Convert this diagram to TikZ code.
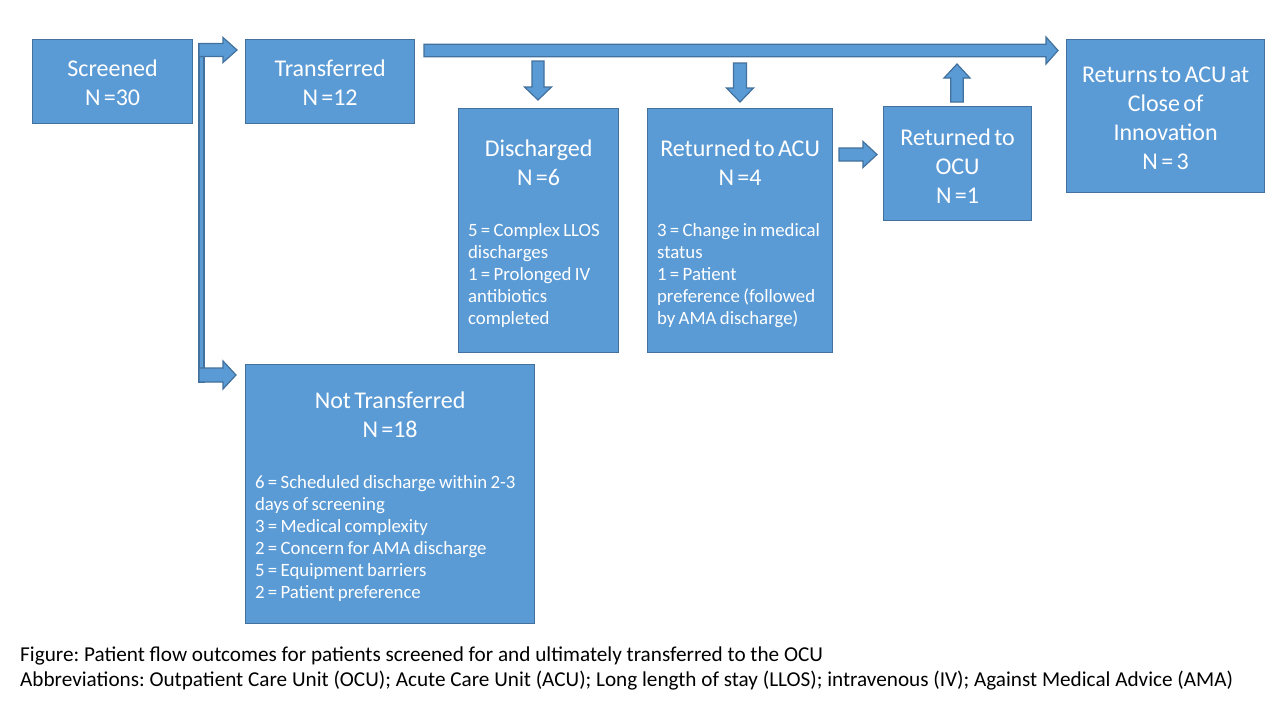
\documentclass[tikz,border=0pt]{standalone}
\usepackage{fontspec}
\setmainfont{Carlito}
\usetikzlibrary{calc}
\frenchspacing
\definecolor{boxfill}{HTML}{5B9BD5}
\definecolor{boxline}{HTML}{41719C}
\newcommand\ttlf{\fontsize{24}{29}\selectfont}
\newcommand\dtlf{\fontsize{18.8}{22}\selectfont}
\newcommand\capf{\fontsize{21.2}{25}\selectfont}
\newcommand\dl[1]{\mbox{#1}\\}
% horizontal block arrow: #1 start, #2 end, #3 half shaft, #4 half head, #5 signed head length
\newcommand\hbarrow[5]{%
  \draw[bar] let \p1=(#1),\p2=(#2) in
    (\x1,{\y1+#3}) -- ({\x2-#5},{\y1+#3}) -- ({\x2-#5},{\y1+#4}) -- (\x2,\y1)
    -- ({\x2-#5},{\y1-#4}) -- ({\x2-#5},{\y1-#3}) -- (\x1,{\y1-#3}) -- cycle;}
% vertical block arrow
\newcommand\vbarrow[5]{%
  \draw[bar] let \p1=(#1),\p2=(#2) in
    ({\x1+#3},\y1) -- ({\x1+#3},{\y2-#5}) -- ({\x1+#4},{\y2-#5}) -- (\x1,\y2)
    -- ({\x1-#4},{\y2-#5}) -- ({\x1-#3},{\y2-#5}) -- ({\x1-#3},\y1) -- cycle;}
\tikzset{
  box/.style={draw=boxline, fill=boxfill, line width=1.2pt, text=white,
    anchor=north west, inner sep=0pt},
  bar/.style={draw=boxline, fill=boxfill, line width=1.2pt}
}
\begin{document}
\begin{tikzpicture}[x=1pt,y=-1pt]
\useasboundingbox[fill=white] (0,0) rectangle (1280,720);

% boxes
\node[box, minimum width=160, minimum height=84, text width=150pt] (scr) at (32,39)
  {\centering\ttlf Screened\\N =30\par\vspace{-2pt}};
\node[box, minimum width=169, minimum height=84, text width=159pt] (trans) at (245,39)
  {\centering\ttlf Transferred\\N =12\par\vspace{-2pt}};
\node[box, minimum width=160, minimum height=244, text width=141pt] (disc) at (458,108)
  {\centering\ttlf Discharged\\N =6\par\vspace{29pt}\raggedright\dtlf
   \dl{5 = Complex LLOS}\dl{discharges}\dl{1 = Prolonged IV}\dl{antibiotics}\mbox{completed}\par\vspace{-6pt}};
\node[box, minimum width=185, minimum height=244, text width=166pt] (racu) at (647,108)
  {\centering\ttlf Returned to ACU\\N =4\par\vspace{29pt}\raggedright\dtlf
   \dl{3 = Change in medical}\dl{status}\dl{1 = Patient}\dl{preference (followed}\mbox{by AMA discharge)}\par\vspace{-6pt}};
\node[box, minimum width=148, minimum height=114, text width=138pt] (rocu) at (883,106)
  {\centering\ttlf Returned to\\OCU\\N =1\par\vspace{-6pt}};
\node[box, minimum width=198, minimum height=153, text width=188pt] (close) at (1066,39)
  {\centering\ttlf Returns to ACU at\\Close of\\Innovation\\N = 3\par\vspace{-4pt}};
\node[box, minimum width=289, minimum height=259, text width=270pt] (notr) at (245,364)
  {\centering\ttlf Not Transferred\\N =18\par\vspace{29pt}\raggedright\dtlf
   \dl{6 = Scheduled discharge within 2-3}\dl{days of screening}\dl{3 = Medical complexity}\dl{2 = Concern for AMA discharge}\dl{5 = Equipment barriers}\mbox{2 = Patient preference}\par\vspace{-6pt}};

% captions
\node[anchor=base west, font=\capf, inner sep=0pt] (cap1) at (20,661)
  {Figure: Patient flow outcomes for patients screened for and ultimately transferred to the OCU};
\node[anchor=base west, font=\capf, inner sep=0pt] (cap2) at (20,686)
  {Abbreviations: Outpatient Care Unit (OCU); Acute Care Unit (ACU); Long length of stay (LLOS); intravenous (IV); Against Medical Advice (AMA)};

% arrow end points
\coordinate (bigS) at (424,50.5);  \coordinate (bigE) at (1058,50.5);
\coordinate (d1S) at (538,61);     \coordinate (d1E) at (538,100);
\coordinate (d2S) at (740,63);     \coordinate (d2E) at (740,102);
\coordinate (uS) at (957,102);     \coordinate (uE) at (957,64);
\coordinate (rS) at (839,154.5);   \coordinate (rE) at (877,154.5);
\coordinate (fT) at (199,44);      \coordinate (fB) at (204,382);
\coordinate (f1S) at (199,50);     \coordinate (f1E) at (237,50);
\coordinate (f2S) at (199,375);    \coordinate (f2E) at (236,375);

% fork
\draw[bar] (fT) rectangle (fB);
\hbarrow{f1S}{f1E}{6.5pt}{12.5pt}{14pt}
\hbarrow{f2S}{f2E}{7pt}{14pt}{13pt}

% arrows
\hbarrow{bigS}{bigE}{6.3pt}{13.5pt}{12pt}
\vbarrow{d1S}{d1E}{6pt}{13.5pt}{-13pt}
\vbarrow{d2S}{d2E}{6.5pt}{13.5pt}{-14pt}
\vbarrow{uS}{uE}{6.3pt}{13pt}{14pt}
\hbarrow{rS}{rE}{6.5pt}{13pt}{14pt}
\end{tikzpicture}
\end{document}
